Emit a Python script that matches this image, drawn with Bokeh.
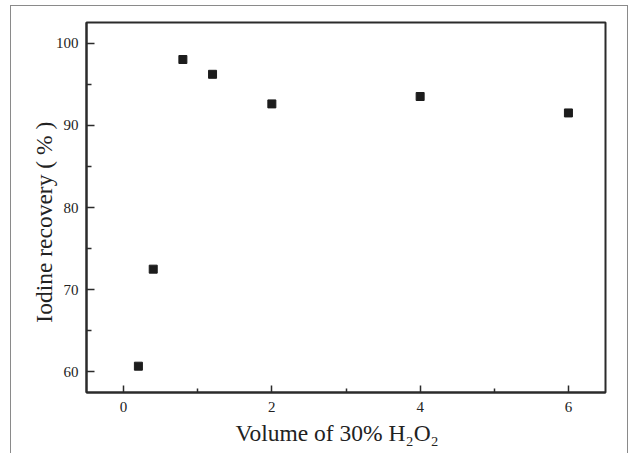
from bokeh.plotting import figure
from bokeh.models import FixedTicker
from bokeh.embed import file_html
from bokeh.resources import INLINE

# Data
volume = [0.2, 0.4, 0.8, 1.2, 2.0, 4.0, 6.0]
recovery = [60.7, 72.5, 98.0, 96.2, 92.6, 93.5, 91.5]

x_major = [0, 2, 4, 6]
x_minor = [1, 3, 5]
y_major = [60, 70, 80, 90, 100]
y_minor = [65, 75, 85, 95]

x_title = "Volume of 30% H\u2082O\u2082"
y_title = "Iodine recovery ( % )"

FONT = "Liberation Serif"
DARK = "#2b2b2b"

p = figure(width=618, height=448, x_range=(-0.5, 6.5), y_range=(57.5, 102.5),
           output_backend="svg", toolbar_location=None,
           min_border_left=75, min_border_right=24, min_border_top=16, min_border_bottom=62,
           styles={"border-top": "1px solid #8a8a8a", "border-left": "1px solid #8a8a8a",
                   "border-right": "1px solid #8a8a8a", "margin-top": "5px", "margin-left": "10px"})

p.scatter(volume, recovery, marker="square", size=8, fill_color="#1c1c1c", line_color="#1c1c1c")

p.xgrid.visible = False
p.ygrid.visible = False
p.outline_line_color = DARK
p.outline_line_width = 2
p.background_fill_color = "white"
p.border_fill_color = "white"

xa = p.xaxis[0]
xa.ticker = FixedTicker(ticks=x_major, minor_ticks=x_minor)
# trailing no-break spaces shift the centred titles slightly, as placed in the reference
xa.axis_label = x_title + "\u00a0" * 3
ya = p.yaxis[0]
ya.ticker = FixedTicker(ticks=y_major, minor_ticks=y_minor)
ya.axis_label = y_title + "\u00a0" * 5

for ax in (xa, ya):
    ax.axis_line_color = DARK
    ax.axis_line_width = 2
    ax.major_tick_line_color = DARK
    ax.minor_tick_line_color = DARK
    ax.major_tick_line_width = 1.5
    ax.minor_tick_line_width = 1.5
    ax.major_tick_out = 0
    ax.minor_tick_out = 0
    ax.major_label_text_font = FONT
    ax.major_label_text_font_size = "15px"
    ax.major_label_text_color = "#222222"
    ax.axis_label_text_font = FONT
    ax.axis_label_text_font_size = "23.5px"
    ax.axis_label_text_font_style = "normal"
    ax.axis_label_text_color = "#222222"

xa.major_tick_in = 7
xa.minor_tick_in = 4
xa.major_label_standoff = 9
xa.axis_label_standoff = 5
ya.major_tick_in = 8
ya.minor_tick_in = 5
ya.major_label_standoff = 8
ya.axis_label_standoff = -4

open("out.html", "w").write(file_html(p, INLINE))
